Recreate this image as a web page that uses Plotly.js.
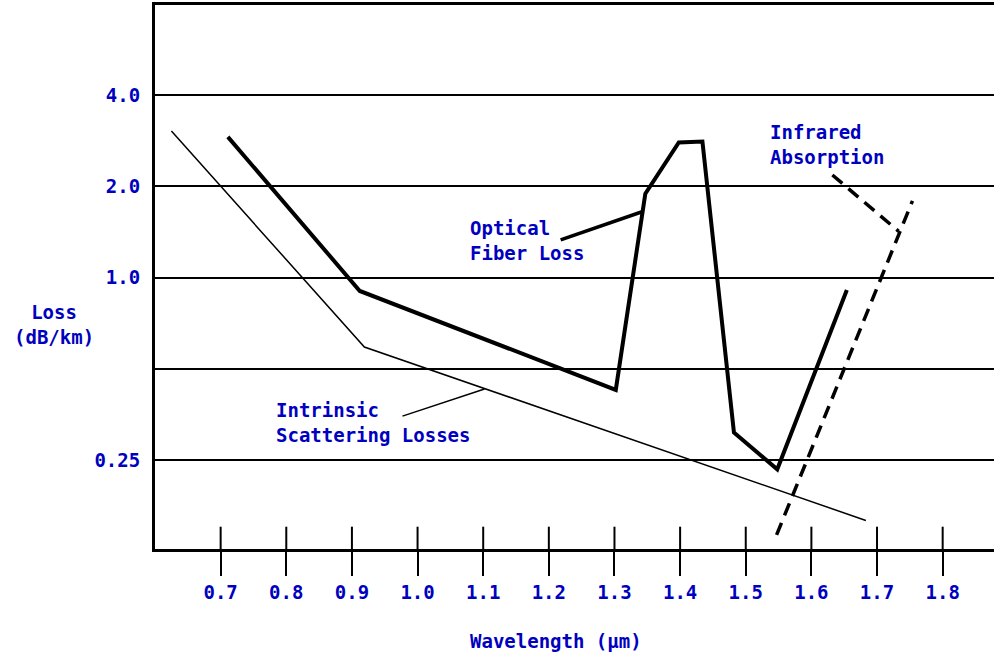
<!DOCTYPE html>
<html>
<head>
<meta charset="utf-8">
<script src="https://cdn.plot.ly/plotly-3.0.1.min.js"></script>
<style>
  html, body { margin: 0; padding: 0; background: #ffffff; }
  #chart { width: 994px; height: 658px; }
</style>
</head>
<body>
<div id="chart"></div>
<script>
// Spectral loss of silica optical fiber (dB/km) versus wavelength (µm)

// Measured optical fiber loss curve
const fiberWavelength = [0.711, 0.912, 1.302, 1.347, 1.398, 1.434, 1.482, 1.548, 1.654];
const fiberLoss       = [2.91, 0.903, 0.426, 1.89, 2.79, 2.81, 0.308, 0.233, 0.91];

// Intrinsic (Rayleigh) scattering losses
const scatterWavelength = [0.625, 0.919, 1.683];
const scatterLoss       = [3.04, 0.590, 0.158];

// Infrared absorption edge
const infraredWavelength = [1.547, 1.754];
const infraredLoss       = [0.1416, 1.79];

// Leader lines joining the labels to their curves
const fiberLeaderX    = [1.218, 1.341];
const fiberLeaderY    = [1.330, 1.645];
const scatterLeaderX  = [0.977, 1.102];
const scatterLeaderY  = [0.349, 0.429];
const infraredLeaderX = [1.632, 1.733];
const infraredLeaderY = [2.178, 1.42];

// Axis ticks
const xTickValues = [0.7, 0.8, 0.9, 1.0, 1.1, 1.2, 1.3, 1.4, 1.5, 1.6, 1.7, 1.8];
const xTickLabels = ["0.7", "0.8", "0.9", "1.0", "1.1", "1.2", "1.3", "1.4", "1.5", "1.6", "1.7", "1.8"];
const yTickValues = [0.25, 0.5, 1.0, 2.0, 4.0];
const yTickLabels = ["0.25", "", "1.0", "2.0", "4.0"];

// Curve labels: [text, wavelength, loss]
const curveLabels = [
  ["Optical<br>Fiber Loss", 1.0763, 1.32],
  ["Infrared<br>Absorption", 1.5333, 2.756],
  ["Intrinsic<br>Scattering Losses", 0.7807, 0.3336]
];

const BLUE = "#0000BF";
const labelFont = { family: "DejaVu Sans Mono, monospace", size: 19, color: BLUE, weight: "bold" };

const traces = [
  { x: scatterWavelength, y: scatterLoss, mode: "lines", line: { color: "#000", width: 1.5 } },
  { x: fiberWavelength, y: fiberLoss, mode: "lines", line: { color: "#000", width: 4 } },
  { x: infraredWavelength, y: infraredLoss, mode: "lines", line: { color: "#000", width: 3.5, dash: "13px,8px" } },
  { x: fiberLeaderX, y: fiberLeaderY, mode: "lines", line: { color: "#000", width: 3.5 } },
  { x: scatterLeaderX, y: scatterLeaderY, mode: "lines", line: { color: "#000", width: 1.5 } },
  { x: infraredLeaderX, y: infraredLeaderY, mode: "lines", line: { color: "#000", width: 3.5, dash: "13px,8px" } }
];

// Upper half of each wavelength tick, drawn inside the plot
const innerTicks = xTickValues.map(v => ({
  type: "line", xref: "x", yref: "paper",
  x0: v, x1: v, y0: 0, y1: 0.041,
  line: { color: "#000", width: 2 }
}));

const annotations = curveLabels.map(([text, x, y]) => ({
  text: text, x: x, y: Math.log10(y), xref: "x", yref: "y",
  xanchor: "left", yanchor: "middle", align: "left",
  showarrow: false, font: labelFont
}));

annotations.push({
  text: "Loss<br>(dB/km)", xref: "paper", yref: "paper",
  x: -0.1204, y: 0.412, xanchor: "center", yanchor: "middle",
  align: "center", showarrow: false, font: labelFont
});
annotations.push({
  text: "Wavelength (µm)", xref: "paper", yref: "paper",
  x: 0.478, y: -0.169, xanchor: "center", yanchor: "middle",
  showarrow: false, font: labelFont
});

const layout = {
  width: 994, height: 658,
  margin: { l: 155, r: 0, t: 5, b: 109 },
  paper_bgcolor: "#fff", plot_bgcolor: "#fff",
  showlegend: false,
  font: labelFont,
  xaxis: {
    range: [0.6, 1.8782],
    tickvals: xTickValues, ticktext: xTickLabels,
    ticks: "outside", ticklen: 24, tickwidth: 2, tickcolor: "#000",
    showgrid: false, zeroline: false,
    showline: true, linecolor: "#000", linewidth: 3, mirror: true,
    tickfont: labelFont
  },
  yaxis: {
    type: "log",
    range: [-0.8955, 0.8989],
    tickvals: yTickValues, ticktext: yTickLabels,
    ticks: "", ticklabelstandoff: 8,
    showgrid: true, gridcolor: "#000", gridwidth: 2,
    zeroline: false,
    showline: true, linecolor: "#000", linewidth: 3,
    tickfont: labelFont
  },
  shapes: innerTicks,
  annotations: annotations
};

Plotly.newPlot("chart", traces, layout, { displayModeBar: false, staticPlot: true });
</script>
</body>
</html>
